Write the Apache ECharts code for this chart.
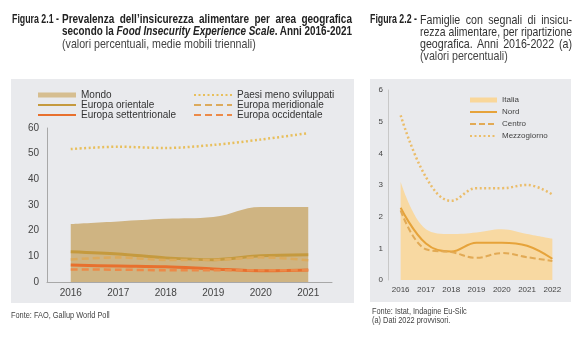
<!DOCTYPE html>
<html>
<head>
<meta charset="utf-8">
<script src="https://cdn.jsdelivr.net/npm/echarts@6/dist/echarts.min.js"></script>
<style>
  html,body{margin:0;padding:0;background:#fff;}
  #chart{position:absolute;left:0;top:0;width:581px;height:339px;}
  .tl{position:absolute;font-family:"Liberation Sans",Arial,sans-serif;white-space:nowrap;transform-origin:0 0;color:#222;}
</style>
</head>
<body>
<div id="chart"></div>
<script>
// ---- Figura 2.1 data ----
const years1 = ['2016','2017','2018','2019','2020','2021'];
const mondo = [22.6, 23.6, 24.6, 25.3, 29.2, 29.2];
const paesiMenoSviluppati = [51.8, 52.7, 52.2, 53.4, 55.5, 58.0];
const europaOrientale = [11.8, 10.9, 9.4, 8.7, 10.2, 10.6];
const europaMeridionale = [8.8, 9.6, 8.6, 8.6, 9.6, 8.5];
const europaSettentrionale = [6.6, 6.2, 5.9, 5.1, 4.4, 4.7];
const europaOccidentale = [4.9, 4.8, 4.6, 4.6, 4.6, 4.6];
const yTicks1 = [0, 60, 10];

// ---- Figura 2.2 data ----
const years2 = ['2016','2017','2018','2019','2020','2021','2022'];
const italia = [3.1, 1.6, 1.45, 1.5, 1.6, 1.45, 1.3];
const nord = [2.28, 1.15, 0.9, 1.18, 1.18, 1.08, 0.67];
const centro = [2.2, 0.97, 0.88, 0.7, 0.85, 0.72, 0.6];
const mezzogiorno = [5.2, 3.25, 2.5, 2.9, 2.9, 3.0, 2.7];
const yTicks2 = [0, 6, 1];

// ---- texts ----
const title1Prefix = 'Figura 2.1 -';
const title1Lines = ['Prevalenza dell’insicurezza alimentare per area geografica',
  'secondo la <i>Food Insecurity Experience Scale</i>. Anni 2016-2021',
  '(valori percentuali, medie mobili triennali)'];
const title2Prefix = 'Figura 2.2 -';
const title2Lines = ['Famiglie con segnali di insicu-', 'rezza alimentare, per ripartizione',
  'geografica. Anni 2016-2022 (a)', '(valori percentuali)'];
const note1 = ['Fonte: FAO, Gallup World Poll'];
const note2 = ['Fonte: Istat, Indagine Eu-Silc', '(a) Dati 2022 provvisori.'];

function place(html, x, cy, opt){
  const d = document.createElement('div');
  d.className = 'tl';
  d.innerHTML = html;
  const fs = opt.fs || 13;
  d.style.fontSize = fs + 'px';
  d.style.lineHeight = fs + 'px';
  d.style.left = x + 'px';
  d.style.top = (cy - fs/2) + 'px';
  if (opt.bold) d.style.fontWeight = 'bold';
  if (opt.color) d.style.color = opt.color;
  document.body.appendChild(d);
  const w = d.getBoundingClientRect().width;
  let s = opt.scale || 0.8;
  if (opt.width) {
    if (w * s > opt.width) s = opt.width / w;
    if (opt.justify) {
      d.style.width = (opt.width / s) + 'px';
      d.style.textAlign = 'justify';
      d.style.textAlignLast = 'justify';
    }
  }
  d.style.transform = 'scaleX(' + s + ')';
}
const rowsY = [19, 31, 43, 55];
place(title1Prefix, 12, rowsY[0], {bold:true, fs:12.5, scale:0.78, width:47});
title1Lines.forEach((t,i)=>place(t, 62, rowsY[i], {bold:i<2, fs:i<2?12.5:13, scale:i<2?0.8:0.82, width:290, justify:i<2, color:i<2?'#222':'#444'}));
place(title2Prefix, 370, rowsY[0], {bold:true, fs:12.5, scale:0.78, width:47});
title2Lines.forEach((t,i)=>place(t, 420, rowsY[i], {fs:13, scale:0.82, width:152, justify:i<3, color:i<3?'#333':'#444'}));
note1.forEach((t,i)=>place(t, 11, 315 + i*9, {fs:9, scale:0.82, color:'#444'}));
note2.forEach((t,i)=>place(t, 372, 311 + i*9, {fs:9, scale:0.82, color:'#444'}));

const sansFont = '"Liberation Sans", Arial, sans-serif';

const chart = echarts.init(document.getElementById('chart'), null, {renderer:'canvas'});

function line(name, data, color, width, type, xi, smooth, z){
  return {name, type:'line', data, xAxisIndex:xi, yAxisIndex:xi, symbol:'none', smooth:smooth,
    lineStyle:{color, width, type}, itemStyle:{color}, z:z||3, silent:true};
}

const option = {
  animation:false,
  backgroundColor:'#ffffff',
  graphic:[
    {type:'rect', shape:{x:11,y:79,width:343,height:224}, style:{fill:'#e9eaed'}, z:-10, silent:true},
    {type:'rect', shape:{x:370,y:79,width:201,height:223}, style:{fill:'#e9eaed'}, z:-10, silent:true}
  ],
  grid:[
    {left:47, top:128, width:285, height:154},
    {left:388, top:90, width:177, height:190}
  ],
  legend:[
    {left:37, top:90, orient:'vertical', padding:0, itemGap:0, itemWidth:38, itemHeight:5,
     itemStyle:{opacity:0},
     textStyle:{fontSize:10, lineHeight:9, color:'#333', fontFamily:sansFont},
     data:[{name:'Mondo', icon:'rect', itemStyle:{color:'#d6be90', opacity:1}}, 'Europa orientale', 'Europa settentrionale']},
    {left:193, top:90, orient:'vertical', padding:0, itemGap:0, itemWidth:38, itemHeight:5,
     itemStyle:{opacity:0},
     textStyle:{fontSize:10, lineHeight:9, color:'#333', fontFamily:sansFont},
     data:['Paesi meno sviluppati', 'Europa meridionale', 'Europa occidentale']},
    {left:469, top:94, orient:'vertical', padding:0, itemGap:0, itemWidth:27, itemHeight:5,
     itemStyle:{opacity:0},
     textStyle:{fontSize:8, lineHeight:12, color:'#444', fontFamily:sansFont},
     data:[{name:'Italia', icon:'rect', itemStyle:{color:'#f9d79a', opacity:1}}, 'Nord', 'Centro', 'Mezzogiorno']}
  ],
  xAxis:[
    {type:'category', gridIndex:0, data:years1, boundaryGap:true,
     axisLine:{lineStyle:{color:'#a8a8a8'}}, axisTick:{show:false},
     axisLabel:{fontSize:10, color:'#444', margin:6, fontFamily:sansFont}},
    {type:'category', gridIndex:1, data:years2, boundaryGap:true,
     axisLine:{show:false}, axisTick:{show:false},
     axisLabel:{fontSize:8, color:'#444', margin:6, interval:0, fontFamily:sansFont}}
  ],
  yAxis:[
    {type:'value', gridIndex:0, min:yTicks1[0], max:yTicks1[1], interval:yTicks1[2],
     axisLine:{show:true, lineStyle:{color:'#a8a8a8'}}, axisTick:{show:false}, splitLine:{show:false},
     axisLabel:{fontSize:10, color:'#444', margin:8, fontFamily:sansFont}},
    {type:'value', gridIndex:1, min:yTicks2[0], max:yTicks2[1], interval:yTicks2[2],
     axisLine:{show:true, lineStyle:{color:'#c8c8c8'}}, axisTick:{show:false}, splitLine:{show:false},
     axisLabel:{fontSize:8, color:'#444', margin:5, fontFamily:sansFont}}
  ],
  series:[
    {name:'Mondo', type:'line', data:mondo, xAxisIndex:0, yAxisIndex:0, symbol:'none', smooth:0.4,
     lineStyle:{width:0}, itemStyle:{color:'#d6be90'}, areaStyle:{color:'#cfb482', opacity:1}, z:1, silent:true},
    line('Paesi meno sviluppati', paesiMenoSviluppati, '#e8bf5c', 2.5, [2,2.5], 0, 0.3),
    line('Europa orientale', europaOrientale, '#c59a3e', 3, 'solid', 0, 0.3),
    line('Europa meridionale', europaMeridionale, '#dcaa5c', 2.5, [7,4], 0, 0.3),
    line('Europa settentrionale', europaSettentrionale, '#e8702e', 3, 'solid', 0, 0.3),
    line('Europa occidentale', europaOccidentale, '#ec8a48', 2.5, [7,4], 0, 0.3),
    {name:'Italia', type:'line', data:italia, xAxisIndex:1, yAxisIndex:1, symbol:'none', smooth:0.4,
     lineStyle:{width:0}, itemStyle:{color:'#f9d79a'}, areaStyle:{color:'#f8d9a2', opacity:1}, z:1, silent:true},
    line('Nord', nord, '#e6a33a', 2, 'solid', 1, 0.4),
    line('Centro', centro, '#e2aa55', 2, [6,3], 1, 0.4),
    line('Mezzogiorno', mezzogiorno, '#ebbd6a', 2.5, [2,2.5], 1, 0.4)
  ]
};
chart.setOption(option);
</script>
</body>
</html>
